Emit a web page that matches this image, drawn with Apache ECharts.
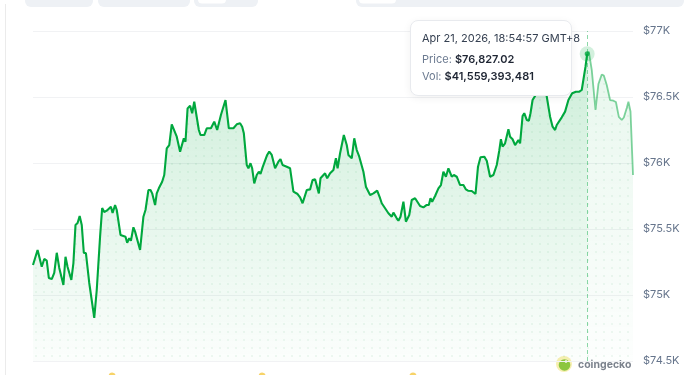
<!DOCTYPE html>
<html>
<head>
<meta charset="utf-8">
<script src="https://cdn.jsdelivr.net/npm/echarts@6/dist/echarts.min.js"></script>
<style>
html,body{margin:0;padding:0;background:#fff;}
#chart{width:694px;height:375px;}
</style>
</head>
<body>
<div id="chart"></div>
<script>
// ---- Data (minutes since 2026-04-20 20:44:57 GMT+8, BTC price USD) ----
const minuteOffsets = [0,11,21,27,33,38,45,51,57,63,73,78,83,87,92,97,102,107,112,117,122,127,135,147,153,161,166,171,177,187,191,197,201,210,214,222,226,231,235,241,245,257,265,270,277,282,286,293,297,302,306,310,315,321,327,333,337,345,353,357,362,366,371,377,382,387,391,398,402,411,417,427,435,442,451,455,462,470,481,489,497,502,506,513,517,522,526,531,537,542,546,551,555,562,567,573,581,589,594,599,603,609,613,617,625,629,635,641,647,657,665,671,677,681,686,690,701,706,713,721,727,731,737,741,746,753,757,761,765,771,777,783,787,793,799,809,817,826,833,837,845,853,857,861,865,873,877,882,889,895,903,909,917,921,929,937,945,950,954,958,965,973,979,985,991,997,1005,1010,1017,1025,1033,1039,1044,1053,1062,1068,1074,1083,1089,1097,1105,1113,1119,1123,1127,1133,1141,1145,1151,1157,1165,1169,1175,1179,1185,1190,1194,1199,1205,1212,1219,1226,1232,1237,1241,1247,1253,1257,1261,1269,1277,1285,1289,1294,1303,1311,1317,1321,1326,1330,1334,1341,1345,1350,1357,1365,1370,1377,1385,1393,1399,1406,1413,1418,1425,1429,1434,1440];
const prices = [75227,75341,75214,75273,75260,75129,75121,75167,75320,75205,75076,75290,75212,75205,75114,75242,75530,75545,75598,75530,75318,75318,75091,74826,75038,75442,75659,75629,75639,75669,75621,75682,75644,75455,75442,75442,75396,75430,75411,75513,75480,75341,75593,75644,75795,75795,75770,75682,75770,75808,75795,75858,75909,76111,76136,76293,76301,76199,76086,76074,76187,76161,76414,76434,76377,76464,76452,76250,76212,76212,76263,76263,76313,76250,76364,76377,76477,76263,76263,76293,76301,76275,76225,75985,75960,75998,75960,75846,75909,75934,75917,75967,75972,76061,76086,76061,75960,76010,76030,75985,75998,75972,75985,75960,75783,75770,75765,75740,75695,75795,75800,75871,75877,75877,75770,75884,75922,75884,75922,75947,76036,75960,76074,76086,76212,76136,76061,76048,76036,76187,76098,76048,76048,75934,75820,75758,75770,75790,75733,75695,75657,75619,75619,75593,75624,75581,75563,75593,75707,75555,75606,75720,75733,75720,75674,75664,75682,75682,75733,75707,75750,75808,75833,75934,75896,75960,75896,75909,75896,75833,75833,75800,75790,75788,75765,75972,76043,76048,76017,75896,75909,75985,76093,76180,76124,76149,76255,76199,76180,76136,76174,76149,76356,76377,76326,76320,76377,76477,76508,76583,76523,76568,76523,76427,76351,76275,76250,76288,76275,76346,76389,76477,76482,76528,76540,76540,76553,76553,76730,76827.02,76843,76705,76697,76402,76598,76671,76663,76591,76477,76472,76462,76349,76326,76345,76417,76464,76390,75909];
const hoverIndex = 219;
const hoverVolume = 41559393481;
const eventMinutes = [190, 550, 912];
const yTicks = [74500, 75000, 75500, 76000, 76500, 77000];

const startUtc = Date.UTC(2026, 3, 20, 12, 44, 57); // 20:44:57 GMT+8
const n = Math.min(minuteOffsets.length, prices.length);
const pts = [];
for (let i = 0; i < n; i++) pts.push([startUtc + minuteOffsets[i] * 60000, prices[i]]);
const leftPts = pts.slice(0, hoverIndex + 1);
const rightPts = pts.slice(hoverIndex);
const hoverPt = pts[hoverIndex];
const eventPts = eventMinutes.map(m => [startUtc + m * 60000, yTicks[0]]);

function fmtDate(t) {
  const d = new Date(t + 8 * 3600000);
  const mon = ['Jan','Feb','Mar','Apr','May','Jun','Jul','Aug','Sep','Oct','Nov','Dec'][d.getUTCMonth()];
  const p = v => String(v).padStart(2, '0');
  return mon + ' ' + d.getUTCDate() + ', ' + d.getUTCFullYear() + ', ' + p(d.getUTCHours()) + ':' + p(d.getUTCMinutes()) + ':' + p(d.getUTCSeconds()) + ' GMT+8';
}
function fmtMoney(v, dec) {
  return '$' + v.toLocaleString('en-US', {minimumFractionDigits: dec, maximumFractionDigits: dec});
}

// dotted pattern
const pc = document.createElement('canvas');
pc.width = 8; pc.height = 8;
const pctx = pc.getContext('2d');
pctx.fillStyle = 'rgba(0,150,60,0.11)';
pctx.beginPath(); pctx.arc(4, 4, 1.1, 0, Math.PI * 2); pctx.fill();

const GREEN = '#00a83e';
const chart = echarts.init(document.getElementById('chart'), null, {renderer: 'canvas'});

const grad = (a, b) => new echarts.graphic.LinearGradient(0, 31, 0, 361, [
  {offset: 0, color: 'rgba(0,168,62,' + a + ')'},
  {offset: 1, color: 'rgba(0,168,62,' + b + ')'}
], true);

chart.setOption({
  animation: false,
  grid: {left: 33, right: 61, top: 31, bottom: 14},
  xAxis: {
    type: 'time', min: startUtc, max: startUtc + 1440 * 60000,
    show: true, axisLine: {show: false}, axisTick: {show: false}, axisLabel: {show: false}, splitLine: {show: false}
  },
  yAxis: {
    type: 'value', position: 'right', min: yTicks[0], max: yTicks[yTicks.length - 1], interval: 500,
    axisLine: {show: false}, axisTick: {show: false},
    axisLabel: {
      margin: 10, color: '#66758c', fontSize: 11, fontFamily: 'Inter',
      formatter: v => '$' + (v / 1000) + 'K'
    },
    splitLine: {lineStyle: {color: '#f1f2f4', width: 1}}
  },
  tooltip: {
    trigger: 'item', triggerOn: 'none', alwaysShowContent: true, transitionDuration: 0,
    position: [410, 20], padding: [9, 11, 10, 11],
    backgroundColor: '#fff', borderColor: '#e8eaee', borderWidth: 1,
    extraCssText: 'border-radius:8px;box-shadow:0 2px 8px rgba(0,0,0,0.06);width:138px;',
    formatter: () =>
      '<div style="font-family:Inter;font-size:11px;color:#364152;line-height:16px;white-space:nowrap">' + fmtDate(hoverPt[0]) + '</div>' +
      '<div style="font-family:Inter;font-size:11px;line-height:17px;margin-top:5px;white-space:nowrap"><span style="color:#6b7a90">Price: </span><b style="color:#1e2533;font-weight:600">' + fmtMoney(hoverPt[1], 2) + '</b></div>' +
      '<div style="font-family:Inter;font-size:11px;line-height:17px;white-space:nowrap"><span style="color:#6b7a90">Vol: </span><b style="color:#1e2533;font-weight:600">' + fmtMoney(hoverVolume, 0) + '</b></div>'
  },
  series: [
    {
      type: 'line', data: pts, showSymbol: false, silent: true, z: 1,
      lineStyle: {width: 0, opacity: 0},
      areaStyle: {color: {image: pc, repeat: 'repeat'}}
    },
    {
      type: 'line', data: leftPts, showSymbol: false, z: 3,
      lineStyle: {color: GREEN, width: 2.1},
      areaStyle: {color: grad(0.30, 0.02)}
    },
    {
      type: 'line', data: rightPts, showSymbol: false, z: 2,
      lineStyle: {color: 'rgba(0,168,62,0.5)', width: 1.8},
      areaStyle: {color: grad(0.14, 0.01)},
      markLine: {
        silent: true, symbol: 'none', label: {show: false},
        lineStyle: {color: 'rgba(0,168,62,0.45)', type: [4, 3], width: 1},
        data: [{xAxis: hoverPt[0]}]
      }
    },
    {
      type: 'scatter', data: [hoverPt], symbolSize: 15, z: 4,
      itemStyle: {color: 'rgba(0,168,62,0.22)'}
    },
    {
      type: 'scatter', data: [hoverPt], symbolSize: 5, z: 5, silent: true,
      itemStyle: {color: GREEN}
    },
    {
      type: 'scatter', data: eventPts, symbolSize: 7, symbolOffset: [0, 15], clip: false, silent: true, z: 5,
      itemStyle: {color: '#f5c842'}
    }
  ],
  graphic: [
    {type: 'line', shape: {x1: 5.5, y1: 4, x2: 5.5, y2: 375}, style: {stroke: '#ebebeb', lineWidth: 1}, silent: true},
    {type: 'rect', shape: {x: 25, y: -8, width: 68, height: 15, r: 6}, style: {fill: '#eef1f5'}, silent: true},
    {type: 'rect', shape: {x: 98, y: -8, width: 92, height: 15, r: 6}, style: {fill: '#eef1f5'}, silent: true},
    {type: 'rect', shape: {x: 194, y: -8, width: 64, height: 15, r: 6}, style: {fill: '#eef1f5'}, silent: true},
    {type: 'rect', shape: {x: 198, y: -8, width: 28, height: 11.5, r: 4}, style: {fill: '#ffffff'}, silent: true},
    {type: 'rect', shape: {x: 356, y: -8, width: 328, height: 15, r: 6}, style: {fill: '#eef1f5'}, silent: true},
    {type: 'rect', shape: {x: 359, y: -8, width: 37, height: 11.5, r: 4}, style: {fill: '#ffffff'}, silent: true},
    {type: 'circle', shape: {cx: 564, cy: 364, r: 8}, style: {fill: '#f7efb0'}, silent: true},
    {type: 'circle', shape: {cx: 564.5, cy: 365, r: 5.8}, style: {fill: '#8cc63f'}, silent: true},
    {type: 'circle', shape: {cx: 566, cy: 361.5, r: 1.3}, style: {fill: '#ffffff'}, silent: true},
    {type: 'text', x: 578, y: 365, style: {text: 'coingecko', fill: '#7b828c', font: 'bold 10.5px Inter', textVerticalAlign: 'middle'}, silent: true}
  ]
});
chart.dispatchAction({type: 'showTip', seriesIndex: 3, dataIndex: 0});
</script>
</body>
</html>
